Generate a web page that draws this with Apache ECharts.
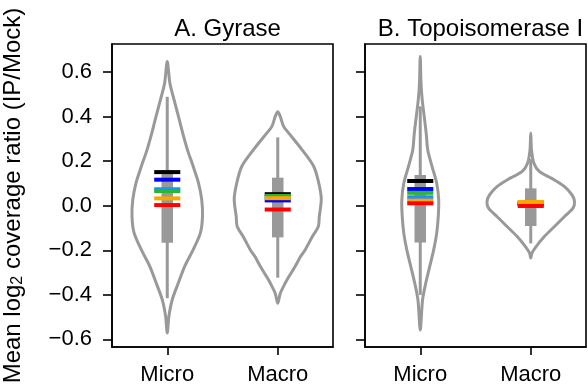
<!DOCTYPE html>
<html>
<head>
<meta charset="utf-8">
<script src="https://cdn.jsdelivr.net/npm/echarts@6/dist/echarts.min.js"></script>
<style>html,body{margin:0;padding:0;background:#fff;}#c{width:588px;height:387px;}</style>
</head>
<body>
<div id="c"></div>
<script>
// ---------- data ----------
const categories = ['Micro', 'Macro'];
const panelTitles = ['A. Gyrase', 'B. Topoisomerase I'];
const yTicks = [-0.6, -0.4, -0.2, 0, 0.2, 0.4, 0.6];
const yAxisName = 'Mean log{sub|2} coverage ratio (IP/Mock)';

// violin profiles: y values and half-widths (category units)
const gyrMicroY = [0.647, 0.550, 0.475, 0.400, 0.326, 0.251, 0.176, 0.102, 0.027, -0.048, -0.122, -0.197, -0.272, -0.347, -0.422, -0.496, -0.571];
const gyrMicroW = [0, 0.024, 0.062, 0.102, 0.140, 0.183, 0.235, 0.283, 0.312, 0.319, 0.300, 0.235, 0.158, 0.100, 0.045, 0.015, 0];
const gyrMacroY = [0.422, 0.400, 0.355, 0.326, 0.250, 0.176, 0.102, 0.030, -0.048, -0.093, -0.139, -0.197, -0.229, -0.272, -0.319, -0.347, -0.393, -0.438];
const gyrMacroW = [0, 0.023, 0.054, 0.100, 0.222, 0.326, 0.371, 0.394, 0.376, 0.367, 0.312, 0.249, 0.205, 0.158, 0.100, 0.068, 0.023, 0];
const topoMicroY = [0.670, 0.550, 0.475, 0.400, 0.325, 0.250, 0.176, 0.101, 0.026, -0.048, -0.123, -0.197, -0.272, -0.347, -0.422, -0.558];
const topoMicroW = [0, 0.007, 0.018, 0.036, 0.054, 0.068, 0.107, 0.149, 0.167, 0.163, 0.149, 0.122, 0.086, 0.050, 0.021, 0];
const topoMacroY = [0.326, 0.250, 0.191, 0.154, 0.124, 0.087, 0.049, 0.019, -0.011, -0.048, -0.093, -0.137, -0.182, -0.212, -0.235];
const topoMacroW = [0, 0.007, 0.029, 0.077, 0.186, 0.303, 0.373, 0.396, 0.382, 0.306, 0.215, 0.125, 0.050, 0.011, 0];

// box plots: [whiskerLow, q1, q3, whiskerHigh]
const gyrMicroBox = [-0.415, -0.166, 0.160, 0.489];
const gyrMacroBox = [-0.323, -0.142, 0.126, 0.307];
const topoMicroBox = [-0.400, -0.165, 0.138, 0.446];
const topoMacroBox = [-0.169, -0.091, 0.078, 0.210];

// per-sample mean lines (order: black, blue, cyan, green, orange, red)
const sampleColors = ['#000000', '#0000ff', '#1e90ff', '#2db52d', '#ffa500', '#ff0000'];
const gyrMicroMeans = [0.151, 0.117, 0.074, 0.066, 0.033, 0.003];
const gyrMacroMeans = [0.052, 0.024, 0.039, 0.044, 0.034, -0.017];
const topoMicroMeans = [0.111, 0.075, 0.038, 0.058, 0.023, 0.011];
const topoMacroMeans = [0.010, 0.008, 0.012, 0.014, 0.017, -0.001];

// ---------- build ----------
const GRAY = '#999999';
const FONT = 'Liberation Sans, Arial, sans-serif';
const panels = [
  { left: 112, title: panelTitles[0],
    violins: [[gyrMicroY, gyrMicroW], [gyrMacroY, gyrMacroW]],
    boxes: [gyrMicroBox, gyrMacroBox],
    means: [gyrMicroMeans, gyrMacroMeans] },
  { left: 365, title: panelTitles[1],
    violins: [[topoMicroY, topoMicroW], [topoMacroY, topoMacroW]],
    boxes: [topoMicroBox, topoMacroBox],
    means: [topoMicroMeans, topoMacroMeans] }
];
const GW = 221, GH = 303, GT = 44;

const fmt = v => (v < 0 ? '\u2212' : '') + Math.abs(v).toFixed(1);

const grid = [], xAxis = [], yAxis = [], title = [], series = [];
panels.forEach((p, pi) => {
  grid.push({ left: p.left, top: GT, width: GW, height: GH, show: true,
    outerBoundsMode: 'none', containLabel: false,
    borderColor: '#000', borderWidth: 1.6, backgroundColor: 'transparent' });
  title.push({ text: p.title, left: p.left + GW / 2, top: 12, textAlign: 'center',
    textStyle: { fontFamily: FONT, fontSize: 24, fontWeight: 'normal', color: '#000' } });
  xAxis.push({ type: 'category', gridIndex: pi, data: categories,
    axisLine: { show: true, onZero: false, lineStyle: { color: '#000', width: 1.6 } },
    axisTick: { show: true, alignWithLabel: true, length: 8, lineStyle: { color: '#000', width: 1.6 } },
    axisLabel: { fontFamily: FONT, fontSize: 22, color: '#000', margin: 17 },
    splitLine: { show: false } });
  yAxis.push({ type: 'value', gridIndex: pi, min: -0.634, max: 0.726,
    axisLine: { show: true, lineStyle: { color: '#000', width: 1.6 } },
    axisTick: { show: true, length: 9, customValues: yTicks, lineStyle: { color: '#000', width: 1.6 } },
    axisLabel: { show: pi === 0, customValues: yTicks, formatter: fmt, fontFamily: FONT, fontSize: 22, color: '#000', margin: 20 },
    splitLine: { show: false },
    name: pi === 0 ? yAxisName : '', nameLocation: 'middle', nameGap: 86,
    nameTextStyle: { fontFamily: FONT, fontSize: 24, color: '#000',
      rich: { sub: { fontFamily: FONT, fontSize: 16, color: '#000', verticalAlign: 'bottom', padding: [10, 0, 0, 0] } } } });

  // violins
  series.push({
    type: 'custom', xAxisIndex: pi, yAxisIndex: pi, z: 2,
    data: [[0, 0], [1, 0]],
    renderItem: (params, api) => {
      const cat = api.value(0);
      const [ys, ws] = p.violins[cat];
      const band = api.size([1, 0])[0];
      const cx = api.coord([cat, 0])[0];
      const pts = [];
      for (let i = 0; i < ys.length; i++) pts.push([cx + ws[i] * band, api.coord([cat, ys[i]])[1]]);
      for (let i = ys.length - 2; i >= 1; i--) pts.push([cx - ws[i] * band, api.coord([cat, ys[i]])[1]]);
      return { type: 'polygon', shape: { points: pts, smooth: 0.3 },
        style: { fill: 'none', stroke: GRAY, lineWidth: 3, lineJoin: 'round' } };
    }
  });
  // boxes
  series.push({
    type: 'custom', xAxisIndex: pi, yAxisIndex: pi, z: 3,
    data: p.boxes.map((b, i) => [i].concat(b)),
    renderItem: (params, api) => {
      const cat = api.value(0);
      const wl = api.coord([cat, api.value(1)]);
      const q1 = api.coord([cat, api.value(2)]);
      const q3 = api.coord([cat, api.value(3)]);
      const wh = api.coord([cat, api.value(4)]);
      const bw = 11.5;
      return { type: 'group', children: [
        { type: 'line', shape: { x1: wl[0], y1: wl[1], x2: wh[0], y2: wh[1] },
          style: { stroke: GRAY, lineWidth: 3 } },
        { type: 'rect', shape: { x: q3[0] - bw / 2, y: q3[1], width: bw, height: q1[1] - q3[1] },
          style: { fill: GRAY } }
      ] };
    }
  });
  // mean lines
  sampleColors.forEach((col, si) => {
    series.push({
      type: 'custom', xAxisIndex: pi, yAxisIndex: pi, z: 4,
      data: [[0, p.means[0][si]], [1, p.means[1][si]]],
      renderItem: (params, api) => {
        const c = api.coord([api.value(0), api.value(1)]);
        const hw = api.size([1, 0])[0] * 0.118;
        return { type: 'line', shape: { x1: c[0] - hw, y1: c[1], x2: c[0] + hw, y2: c[1] },
          style: { stroke: col, lineWidth: 4 } };
      }
    });
  });
});

const chart = echarts.init(document.getElementById('c'), null, { renderer: 'canvas' });
chart.setOption({ animation: false, backgroundColor: '#fff', title, grid, xAxis, yAxis, series });
</script>
</body>
</html>
